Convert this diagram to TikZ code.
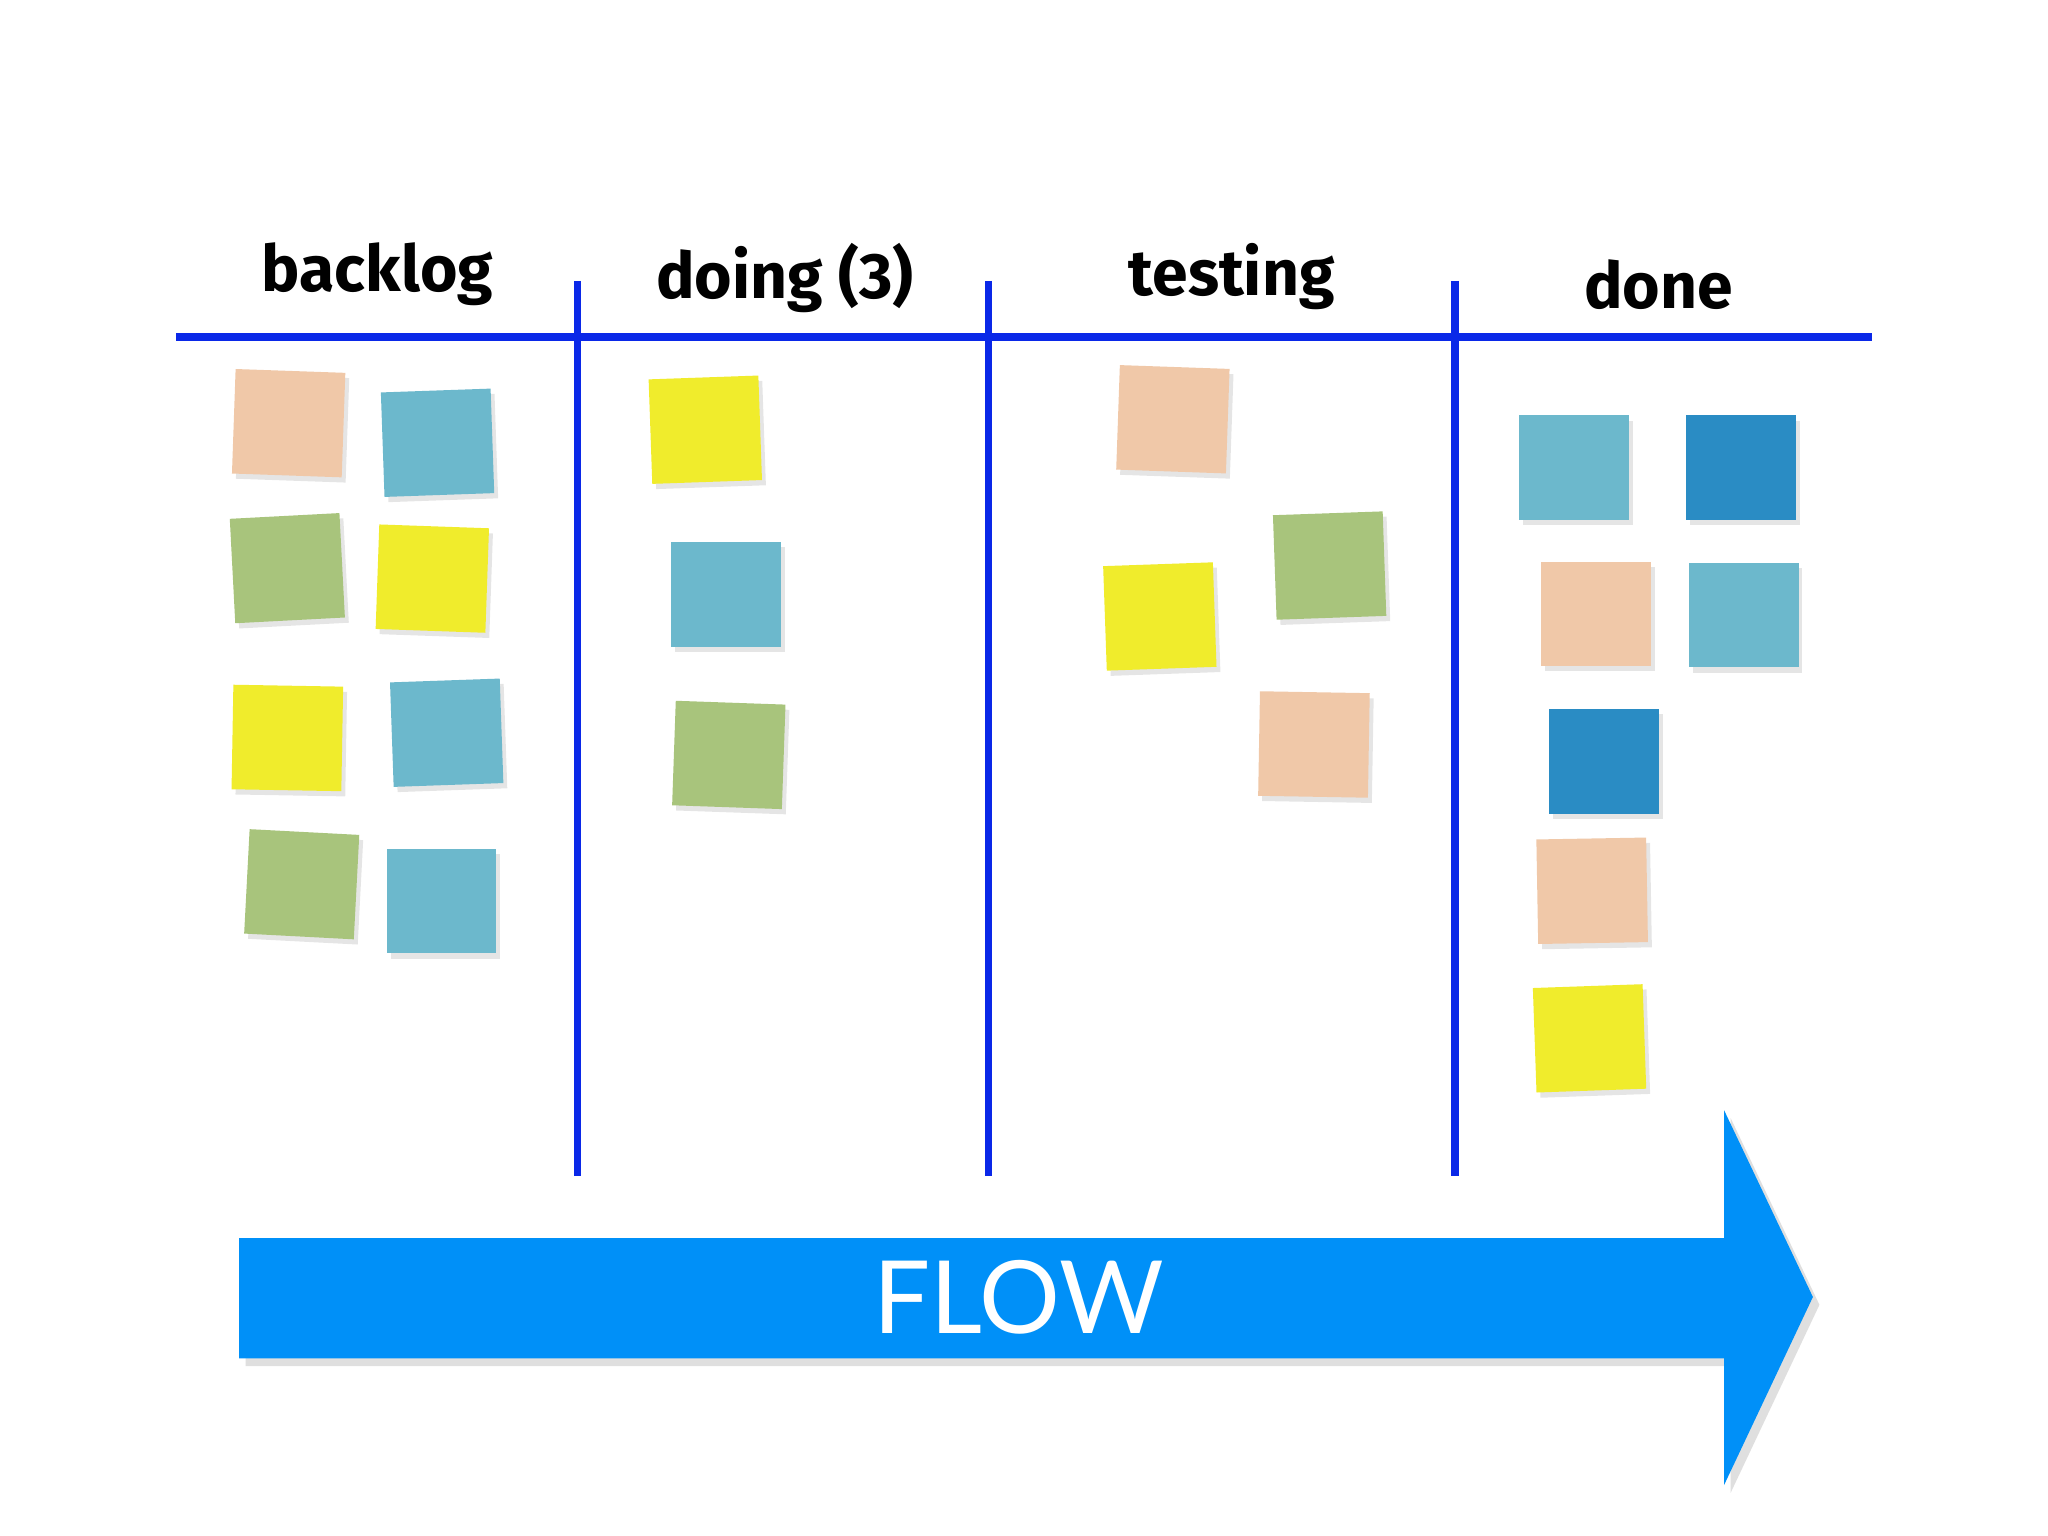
\documentclass[tikz,border=0pt]{standalone}
\usepackage{fontspec}
\newfontfamily\hdfont{Fira Sans}
\newfontfamily\flowfont{Lato}
\usetikzlibrary{shadows}
\definecolor{peach}{HTML}{F0C8A8}
\definecolor{lblue}{HTML}{6CB8CC}
\definecolor{lgreen}{HTML}{A8C47C}
\definecolor{yel}{HTML}{F0EC2C}
\definecolor{dblue}{HTML}{2A8CC4}
\definecolor{board}{HTML}{0A28E8}
\definecolor{flow}{HTML}{0090F8}
\tikzset{
 sticky/.style={minimum width=0.84cm,minimum height=0.80cm,inner sep=0pt,draw=none,
   drop shadow={shadow xshift=0.03cm,shadow yshift=-0.04cm,opacity=0.2}},
 boardline/.style={board,line width=1.6pt},
 hd/.style={font=\hdfont\bfseries\fontsize{14}{16}\selectfont}
}
\begin{document}
\begin{tikzpicture}[x=0.01cm,y=-0.01cm]
\useasboundingbox (0,0) rectangle (1568,1176);
\fill[white] (0,0) rectangle (1568,1176);
% board lines
\coordinate (hl) at (135,258); \coordinate (hr) at (1433,258);
\draw[boardline] (hl) -- (hr);
\foreach \x in {442,757,1114}{\draw[boardline] (\x,215) -- (\x,900);}
\node[hd] (h1) at (289,210) {backlog};
\node[hd] (h2) at (601,213) {doing (3)};
\node[hd] (h3) at (943,212) {testing};
\node[hd] (h4) at (1270,218) {done};
% stickies
\node[sticky,fill=peach,rotate=-2] (b1) at (221,324) {};
\node[sticky,fill=lblue,rotate=2] (b2) at (335,339) {};
\node[sticky,fill=lgreen,rotate=3] (b3) at (220,435) {};
\node[sticky,fill=yel,rotate=-2] (b4) at (331,443) {};
\node[sticky,fill=yel,rotate=-1] (b5) at (220,565) {};
\node[sticky,fill=lblue,rotate=2] (b6) at (342,561) {};
\node[sticky,fill=lgreen,rotate=-3] (b7) at (231,677) {};
\node[sticky,fill=lblue] (b8) at (338,690) {};
\node[sticky,fill=yel,rotate=2] (d1) at (540,329) {};
\node[sticky,fill=lblue] (d2) at (556,455) {};
\node[sticky,fill=lgreen,rotate=-2] (d3) at (558,578) {};
\node[sticky,fill=peach,rotate=-2] (t1) at (898,321) {};
\node[sticky,fill=yel,rotate=2] (t2) at (888,472) {};
\node[sticky,fill=lgreen,rotate=2] (t3) at (1018,433) {};
\node[sticky,fill=peach,rotate=-1] (t4) at (1006,570) {};
\node[sticky,fill=lblue] (n1) at (1205,358) {};
\node[sticky,fill=dblue] (n2) at (1333,358) {};
\node[sticky,fill=peach] (n3) at (1222,470) {};
\node[sticky,fill=lblue] (n4) at (1335,471) {};
\node[sticky,fill=dblue] (n5) at (1228,583) {};
\node[sticky,fill=peach,rotate=1] (n6) at (1219,682) {};
\node[sticky,fill=yel,rotate=2] (n7) at (1217,795) {};
% flow arrow
\fill[flow,drop shadow={shadow xshift=0.05cm,shadow yshift=-0.06cm,opacity=0.25}]
 (183,948) -- (1320,948) -- (1320,850) -- (1388,993) -- (1320,1137) -- (1320,1040) -- (183,1040) -- cycle;
\node[text=white,font=\flowfont\fontsize{22}{24}\selectfont] (fl) at (780,993) {FLOW};
\end{tikzpicture}
\end{document}
